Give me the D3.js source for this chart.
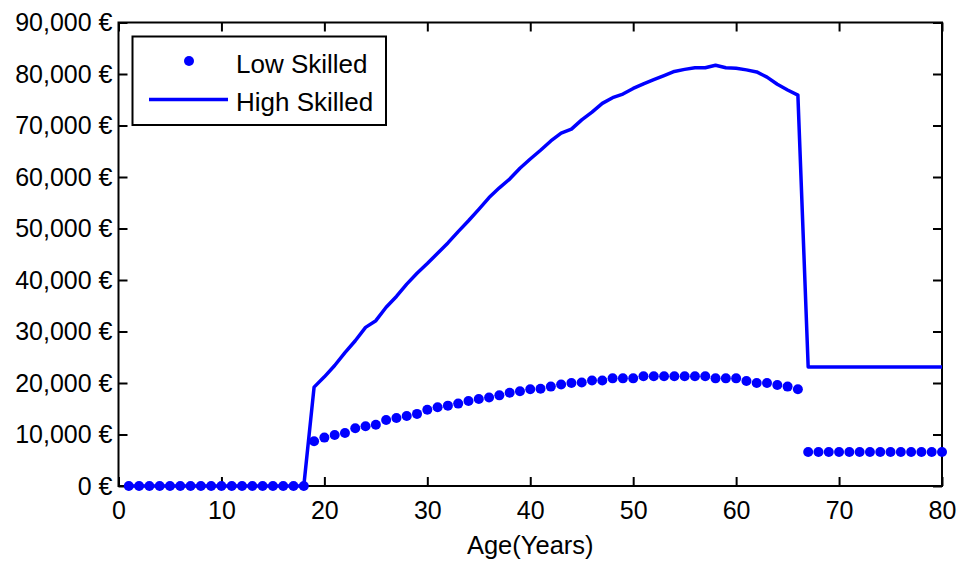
<!DOCTYPE html>
<html>
<head>
<meta charset="utf-8">
<script src="https://cdn.jsdelivr.net/npm/d3@7"></script>
<style>
  body { margin: 0; background: #fff; }
  text { font-family: "Liberation Sans", Arial, sans-serif; fill: #000; }
</style>
</head>
<body>
<div class="svg-container"></div>
<script>
// ages on the x axis
const ages = [
  1, 2, 3, 4, 5, 6, 7, 8, 9, 10, 11, 12, 13, 14, 15, 16, 17, 18, 19, 20,
  21, 22, 23, 24, 25, 26, 27, 28, 29, 30, 31, 32, 33, 34, 35, 36, 37, 38, 39, 40,
  41, 42, 43, 44, 45, 46, 47, 48, 49, 50, 51, 52, 53, 54, 55, 56, 57, 58, 59, 60,
  61, 62, 63, 64, 65, 66, 67, 68, 69, 70, 71, 72, 73, 74, 75, 76, 77, 78, 79, 80
];

// income per age, euros
const lowSkilled = [
  0, 0, 0, 0, 0, 0, 0, 0, 0, 0, 0, 0, 0, 0, 0, 0, 0, 0, 8700, 9400,
  9900, 10300, 11200, 11600, 11900, 12800, 13200, 13600, 14000, 14800,
  15300, 15600, 16000, 16500, 16900, 17200, 17600, 18100, 18400, 18800,
  18900, 19300, 19700, 20000, 20100, 20500, 20500, 20900, 20900, 20900,
  21300, 21300, 21300, 21300, 21300, 21300, 21300, 20900, 20900, 20900,
  20400, 20000, 20000, 19600, 19300, 18800, 6600, 6600, 6600, 6600,
  6600, 6600, 6600, 6600, 6600, 6600, 6600, 6600, 6600, 6600
];

const highSkilled = [
  0, 0, 0, 0, 0, 0, 0, 0, 0, 0, 0, 0, 0, 0, 0, 0, 0, 0, 19200, 21200,
  23400, 25900, 28200, 30800, 32100, 34700, 36800, 39200, 41300, 43200,
  45200, 47200, 49400, 51500, 53700, 56000, 57900, 59600, 61700, 63500,
  65200, 67000, 68500, 69300, 71100, 72600, 74300, 75400, 76100, 77200,
  78100, 78900, 79700, 80500, 80900, 81200, 81200, 81700, 81200, 81100,
  80800, 80400, 79400, 78000, 76900, 75900, 23100, 23100, 23100, 23100,
  23100, 23100, 23100, 23100, 23100, 23100, 23100, 23100, 23100, 23100
];

const xTicks = [0, 10, 20, 30, 40, 50, 60, 70, 80];
const yTicks = [0, 10000, 20000, 30000, 40000, 50000, 60000, 70000, 80000, 90000];
const seriesNames = ['Low Skilled', 'High Skilled'];

const renderChart = () => {
  // set up required dimensions
  const width = 960;
  const height = 565;
  const margin = { top: 22.5, right: 18, bottom: 79, left: 118.5 };
  const innerW = width - margin.left - margin.right;
  const innerH = height - margin.top - margin.bottom;
  const blue = '#0000ff';

  const svg = d3.select('.svg-container')
    .append('svg')
    .attr('width', width)
    .attr('height', height);

  const g = svg.append('g')
    .attr('transform', `translate(${margin.left},${margin.top})`);

  const x = d3.scaleLinear().domain([0, 80]).range([0, innerW]);
  const y = d3.scaleLinear().domain([0, 90000]).range([innerH, 0]);

  // inward ticks on all four sides, matlab style
  const styleAxis = sel => {
    sel.select('.domain').remove();
    sel.selectAll('.tick line').attr('stroke', '#000').attr('stroke-width', 2);
    sel.selectAll('.tick text').style('font-size', '25px').attr('fill', '#000');
  };

  g.append('g')
    .attr('transform', `translate(0,${innerH})`)
    .call(d3.axisBottom(x).tickValues(xTicks).tickSizeInner(-9).tickSizeOuter(0).tickPadding(15))
    .call(styleAxis);

  g.append('g')
    .call(d3.axisTop(x).tickValues(xTicks).tickSizeInner(-9).tickSizeOuter(0).tickFormat(''))
    .call(styleAxis);

  g.append('g')
    .call(d3.axisLeft(y).tickValues(yTicks).tickSizeInner(-9).tickSizeOuter(0).tickPadding(6)
      .tickFormat(d => `${d3.format(',')(d)} €`))
    .call(styleAxis);

  g.append('g')
    .attr('transform', `translate(${innerW},0)`)
    .call(d3.axisRight(y).tickValues(yTicks).tickSizeInner(-9).tickSizeOuter(0).tickFormat(''))
    .call(styleAxis);

  g.append('rect')
    .attr('width', innerW)
    .attr('height', innerH)
    .attr('fill', 'none')
    .attr('stroke', '#000')
    .attr('stroke-width', 2);

  // high skilled line
  const line = d3.line()
    .x((d, i) => x(ages[i]))
    .y(d => y(d));

  g.append('path')
    .datum(highSkilled)
    .attr('fill', 'none')
    .attr('stroke', blue)
    .attr('stroke-width', 3.5)
    .attr('stroke-linejoin', 'round')
    .attr('d', line);

  // low skilled dots
  g.append('g')
    .selectAll('circle')
    .data(lowSkilled)
    .enter()
    .append('circle')
    .attr('cx', (d, i) => x(ages[i]))
    .attr('cy', d => y(d))
    .attr('r', 5)
    .attr('fill', blue);

  // x axis title
  svg.append('text')
    .attr('x', margin.left + innerW / 2)
    .attr('y', 554)
    .attr('text-anchor', 'middle')
    .style('font-size', '25.5px')
    .text('Age(Years)');

  // legend
  const legend = svg.append('g');
  legend.append('rect')
    .attr('x', 132.5)
    .attr('y', 36.5)
    .attr('width', 253.5)
    .attr('height', 88.5)
    .attr('fill', '#fff')
    .attr('stroke', '#000')
    .attr('stroke-width', 2);
  legend.append('circle')
    .attr('cx', 189)
    .attr('cy', 61)
    .attr('r', 5)
    .attr('fill', blue);
  legend.append('line')
    .attr('x1', 149)
    .attr('x2', 228)
    .attr('y1', 99.5)
    .attr('y2', 99.5)
    .attr('stroke', blue)
    .attr('stroke-width', 3.5);
  legend.selectAll('text')
    .data(seriesNames)
    .enter()
    .append('text')
    .attr('x', 236)
    .attr('y', (d, i) => 72.5 + i * 38.5)
    .style('font-size', '26px')
    .text(d => d);
};

renderChart();
</script>
</body>
</html>
